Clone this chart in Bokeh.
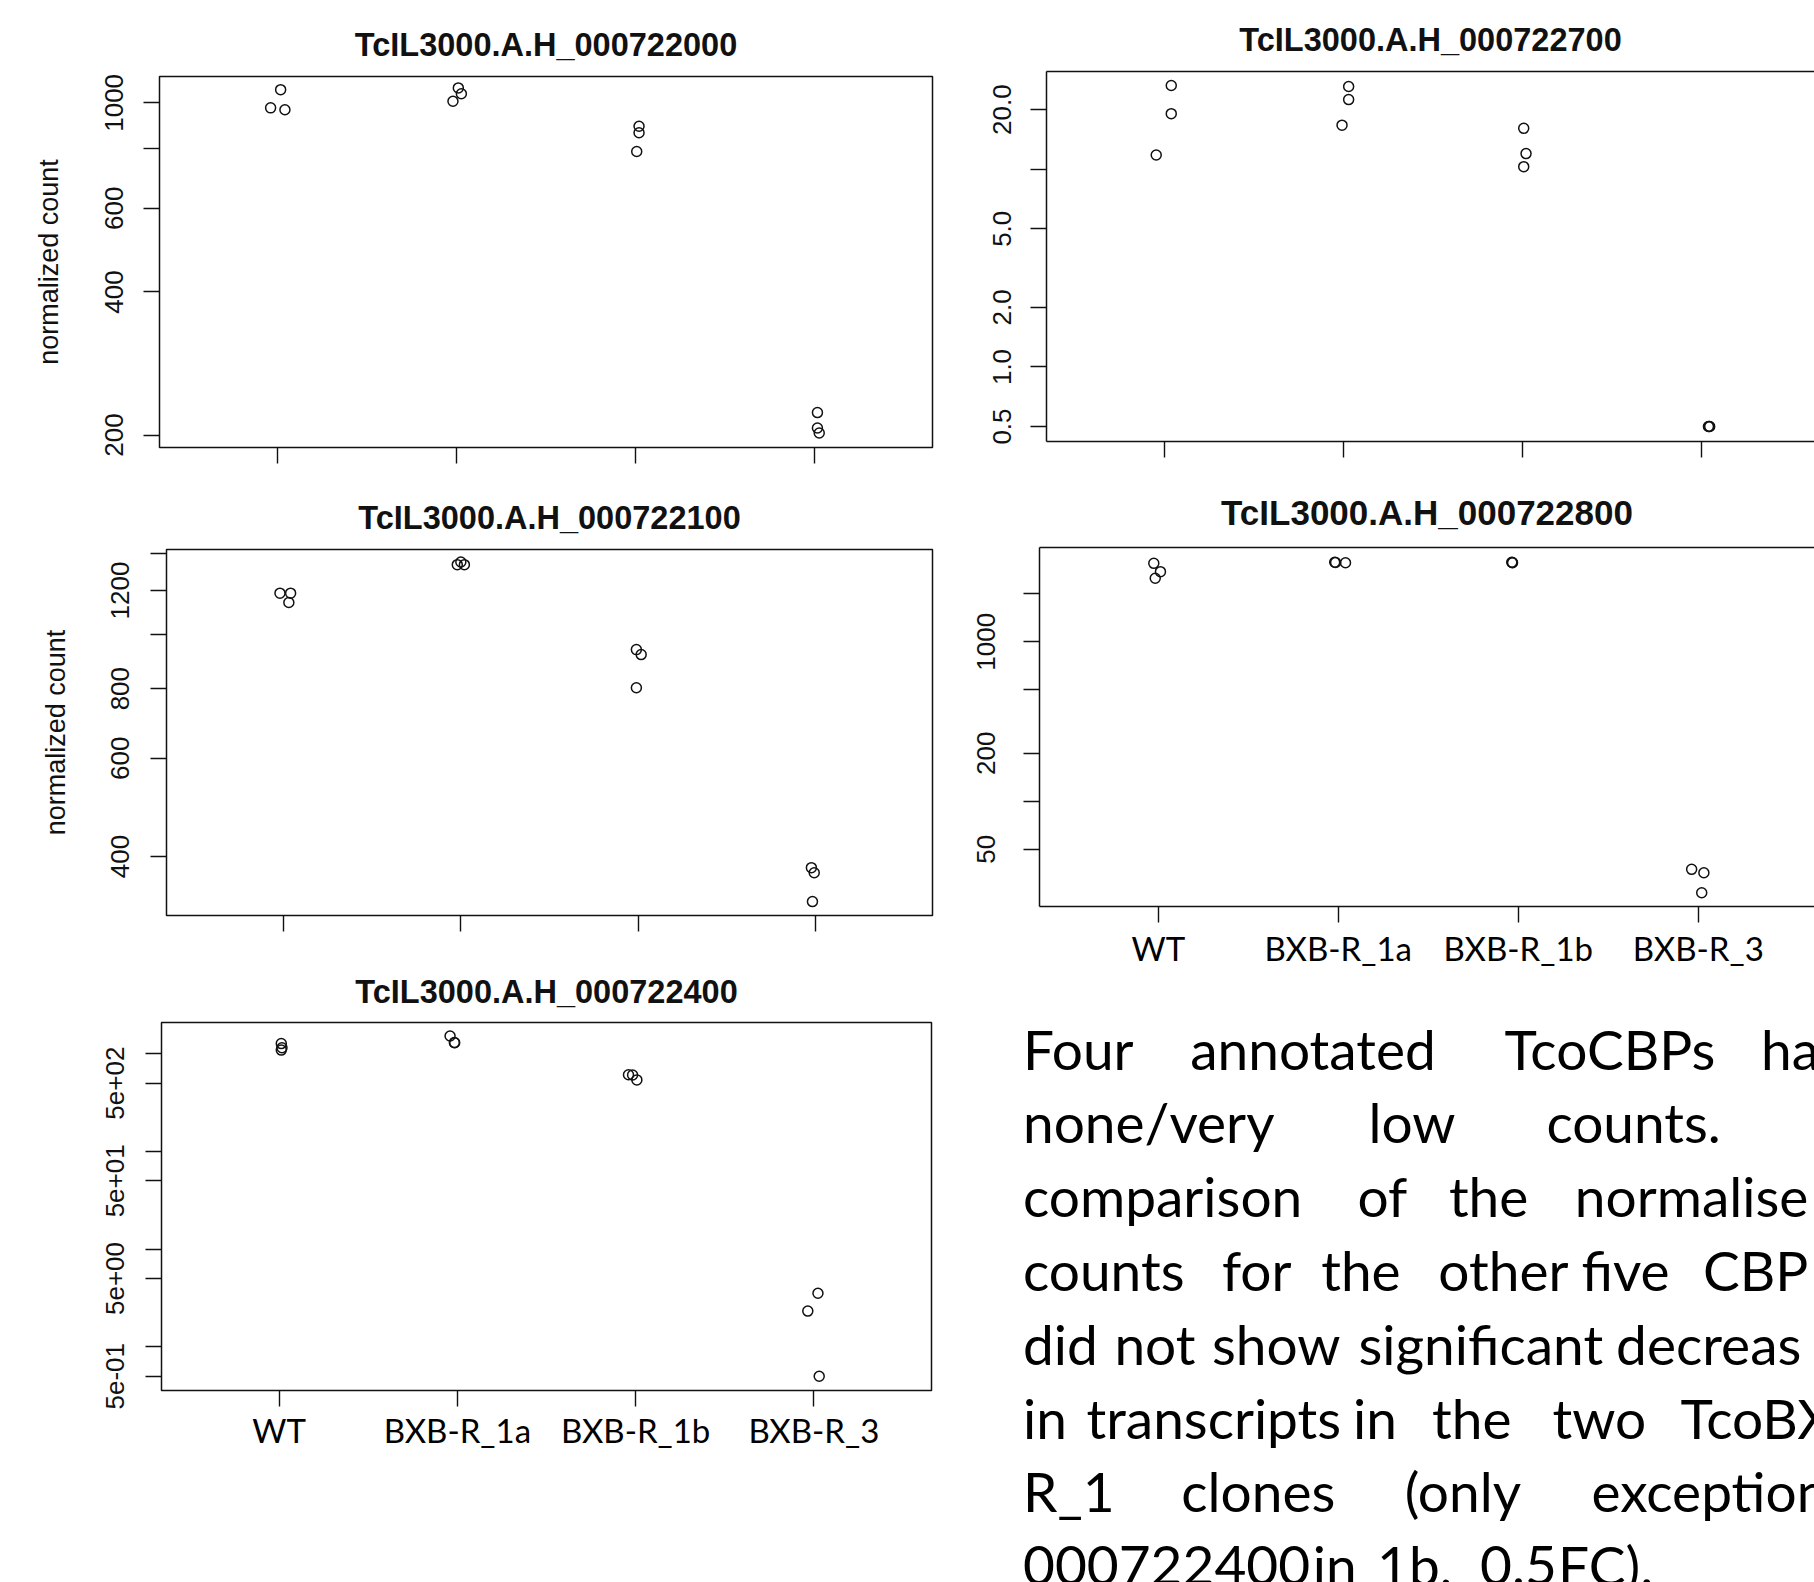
from bokeh.plotting import figure
from bokeh.layouts import column, row
from bokeh.models import Range1d, FixedTicker, LinearAxis
from bokeh.embed import file_html
from bokeh.resources import INLINE
from bokeh.core.properties import value

# ---------------- data ----------------
groups = ["WT", "BXB-R_1a", "BXB-R_1b", "BXB-R_3"]
group_pos = [1, 2, 3, 4]

title_722000 = "TcIL3000.A.H_000722000"
counts_722000 = [[1066, 976, 967], [1075, 1045, 1008], [893, 865, 790], [223, 207, 202]]
jitter_722000 = [[0.017, -0.039, 0.041], [0.010, 0.027, -0.020], [0.020, 0.020, 0.007], [0.017, 0.017, 0.027]]
yticks_722000 = [200, 400, 600, 1000]
ylabels_722000 = ["200", "400", "600", "1000"]
yminor_722000 = [800]

title_722700 = "TcIL3000.A.H_000722700"
counts_722700 = [[26.5, 19.1, 11.8], [26.2, 22.5, 16.7], [16.1, 12.0, 10.3], [0.5, 0.5, 0.5]]
jitter_722700 = [[0.037, 0.037, -0.047], [0.028, 0.028, -0.009], [0.006, 0.019, 0.006], [0.038, 0.042, 0.045]]
yticks_722700 = [0.5, 1, 2, 5, 20]
ylabels_722700 = ["0.5", "1.0", "2.0", "5.0", "20.0"]
yminor_722700 = [10]

title_722100 = "TcIL3000.A.H_000722100"
counts_722100 = [[1187, 1187, 1142], [1350, 1335, 1335], [940, 921, 803], [382, 374, 332]]
jitter_722100 = [[-0.020, 0.040, 0.030], [0.000, -0.020, 0.020], [-0.010, 0.017, -0.010], [-0.023, -0.007, -0.017]]
yticks_722100 = [400, 600, 800, 1200]
ylabels_722100 = ["400", "600", "800", "1200"]
yminor_722100 = [1000, 1400]

title_722800 = "TcIL3000.A.H_000722800"
counts_722800 = [[3100, 2750, 2500], [3150, 3140, 3130], [3150, 3140, 3130], [37.4, 35.6, 26.7]]
jitter_722800 = [[-0.025, 0.012, -0.017], [-0.020, -0.015, 0.040], [-0.036, -0.034, -0.032], [-0.037, 0.031, 0.019]]
yticks_722800 = [50, 200, 1000]
ylabels_722800 = ["50", "200", "1000"]
yminor_722800 = [100, 500, 2000]

title_722400 = "TcIL3000.A.H_000722400"
counts_722400 = [[1270, 1150, 1090], [1520, 1300, 1295], [610, 605, 540], [3.53, 2.32, 0.5]]
jitter_722400 = [[0.012, 0.016, 0.012], [-0.041, -0.017, -0.015], [-0.040, -0.017, 0.007], [0.023, -0.034, 0.030]]
yticks_722400 = [0.5, 5, 50, 500]
ylabels_722400 = ["5e-01", "5e+00", "5e+01", "5e+02"]
yminor_722400 = [1, 10, 100, 1000]

ylabel_text = "normalized count"

# paragraph, as visible in the (cropped) reference
para_words = [
    ["Four", "annotated", "TcoCBPs", "ha"],
    ["none/very", "low", "counts."],
    ["comparison", "of", "the", "normalise"],
    ["counts", "for", "the", "other", "five", "CBP"],
    ["did", "not", "show", "significant", "decreas"],
    ["in", "transcripts", "in", "the", "two", "TcoBXB"],
    ["R_1", "clones", "(only", "exception"],
    ["000722400", "in", "1b,", "0.5", "FC)."],
]
# layout: word start positions and line anchor positions (page px)
para_x = [
    [1022.5, 1189.7, 1504.1, 1760.5],
    [1022.5, 1368.1, 1545.9],
    [1022.5, 1357.0, 1448.4, 1574.3],
    [1022.5, 1221.5, 1320.7, 1437.8, 1581.0, 1702.5],
    [1022.5, 1113.9, 1211.5, 1358.0, 1615.6],
    [1022.5, 1086.0, 1352.5, 1431.6, 1552.0, 1680.0],
    [1022.5, 1180.8, 1404.3, 1591.0],
    [1022.5, 1312.3, 1376.5, 1479.6, 1557.6],
]
para_line_y = [1048.1, 1121.9, 1195.7, 1269.5, 1343.3, 1417.1, 1490.9, 1564.7]

AX = "Liberation Sans"
LAB = "Lato"
INK = "#111111"


def panel(title, counts, jitter, yrange, yticks, ylabels, yminor, xrange,
          W, H, bl, br, bt, bb, ylabel=None, xlabels=False, closed=True,
          ystand=20, ylabstand=37, tstand=26.5, tsize="32.5px", xstand=5):
    p = figure(width=W, height=H, x_range=Range1d(*xrange), y_range=Range1d(*yrange),
               y_axis_type="log", output_backend="svg", toolbar_location=None,
               min_border_left=bl, min_border_right=br, min_border_top=bt,
               min_border_bottom=bb)
    p.grid.visible = False
    p.background_fill_color = "white"
    p.border_fill_color = "white"

    xs, ys = [], []
    for g in range(len(groups)):
        for v, j in zip(counts[g], jitter[g]):
            xs.append(group_pos[g] + j)
            ys.append(v)
    p.scatter(xs, ys, marker="circle", size=10, fill_color=None,
              line_color=INK, line_width=1.5)

    p.title.text = title
    p.title.text_font = AX
    p.title.text_font_size = tsize
    p.title.text_font_style = "bold"
    p.title.text_color = INK
    p.title.align = "center"
    p.title.standoff = tstand

    ya = p.yaxis[0]
    ya.ticker = FixedTicker(ticks=yticks, minor_ticks=yminor)
    ya.major_label_overrides = {t: l for t, l in zip(yticks, ylabels)}
    ya.major_label_orientation = "vertical"
    ya.major_label_text_font = AX
    ya.major_label_text_font_size = "26px"
    ya.major_label_text_color = INK
    ya.major_label_standoff = ystand
    ya.major_tick_out = 16
    ya.major_tick_in = 0
    ya.minor_tick_out = 16
    ya.minor_tick_in = 0
    ya.major_tick_line_color = INK
    ya.minor_tick_line_color = INK
    ya.major_tick_line_width = 1.4
    ya.minor_tick_line_width = 1.4
    if ylabel:
        ya.axis_label = ylabel
        ya.axis_label_text_font = AX
        ya.axis_label_text_font_style = "normal"
        ya.axis_label_text_font_size = "27px"
        ya.axis_label_text_color = INK
        ya.axis_label_standoff = ylabstand

    xa = p.xaxis[0]
    xa.major_tick_in = 0
    xa.minor_tick_in = 0
    xa.major_tick_out = 16
    xa.minor_tick_out = 16
    xa.major_tick_line_color = INK
    xa.minor_tick_line_color = INK
    xa.major_tick_line_width = 1.4
    xa.minor_tick_line_width = 1.4
    if xlabels:
        xa.ticker = FixedTicker(ticks=group_pos)
        xa.major_label_overrides = {t: l for t, l in zip(group_pos, groups)}
        xa.major_label_text_font = LAB
        xa.major_label_text_font_size = "33px"
        xa.major_label_text_color = "black"
        xa.major_label_standoff = xstand
    else:
        # unlabelled group ticks
        xa.ticker = FixedTicker(ticks=[], minor_ticks=group_pos)

    if closed:
        p.outline_line_color = INK
        p.outline_line_width = 1.5
        p.outline_line_alpha = 1.0
        ya.axis_line_color = None
        xa.axis_line_color = None
    else:
        # the box runs on past the right edge of the page: no right side
        p.outline_line_color = None
        ya.axis_line_color = INK
        ya.axis_line_width = 1.5
        xa.axis_line_color = INK
        xa.axis_line_width = 1.5
        top = LinearAxis(ticker=FixedTicker(ticks=[]),
                         major_tick_out=0, major_tick_in=0,
                         minor_tick_out=0, minor_tick_in=0,
                         axis_line_color=INK, axis_line_width=1.5)
        p.add_layout(top, "above")
    return p


# left column
p1 = panel(title_722000, counts_722000, jitter_722000, (188.3, 1136.2),
           yticks_722000, ylabels_722000, yminor_722000, (0.34, 4.66),
           W=940, H=478, bl=159, br=8, bt=76, bb=31, ylabel=ylabel_text,
           ystand=20, ylabstand=39)
p3 = panel(title_722100, counts_722100, jitter_722100, (313.5, 1421.4),
           yticks_722100, ylabels_722100, yminor_722100, (0.34, 4.66),
           W=940, H=472, bl=166, br=8, bt=71, bb=35, ylabel=ylabel_text,
           ystand=21, ylabstand=38)
p5 = panel(title_722400, counts_722400, jitter_722400, (0.357, 2088),
           yticks_722400, ylabels_722400, yminor_722400, (0.34, 4.66),
           W=940, H=632, bl=161, br=9, bt=72, bb=192, xlabels=True,
           ystand=21, tstand=25.5, xstand=3)

# right column
p2 = panel(title_722700, counts_722700, jitter_722700, (0.42, 31.2),
           yticks_722700, ylabels_722700, yminor_722700, (0.34, 0.34 + 768 / 179.0),
           W=874, H=470, bl=106, br=0, bt=71, bb=29, closed=False,
           ystand=19)
p4 = panel(title_722800, counts_722800, jitter_722800, (21.88, 3898),
           yticks_722800, ylabels_722800, yminor_722800, (0.34, 0.34 + 775 / 180.0),
           W=874, H=505, bl=99, br=0, bt=77, bb=69, xlabels=True, closed=False,
           ystand=28, tstand=32, tsize="35px", xstand=5)

# paragraph (page-pixel coordinates, y pointing down)
pt = figure(width=874, height=607, x_range=Range1d(940, 1814), y_range=Range1d(1582, 975),
            x_axis_type=None, y_axis_type=None, output_backend="svg",
            toolbar_location=None, min_border=0)
pt.outline_line_color = None
pt.background_fill_color = "white"
pt.border_fill_color = "white"
tx, ty, tw = [], [], []
for words, xs_, yb in zip(para_words, para_x, para_line_y):
    for w, x in zip(words, xs_):
        tw.append(w)
        tx.append(x)
        ty.append(yb)
pt.text(x=tx, y=ty, text=tw, text_font=value(LAB), text_font_size="55px",
        text_color="black", text_baseline="alphabetic", text_align="left")

# each plot wrapped on its own so that frames are not aligned across plots
left_col = column(row(p1), row(p3), row(p5))
right_col = column(row(p2), row(p4), row(pt))
layout = row(left_col, right_col)
open("out.html", "w").write(file_html(layout, INLINE))
